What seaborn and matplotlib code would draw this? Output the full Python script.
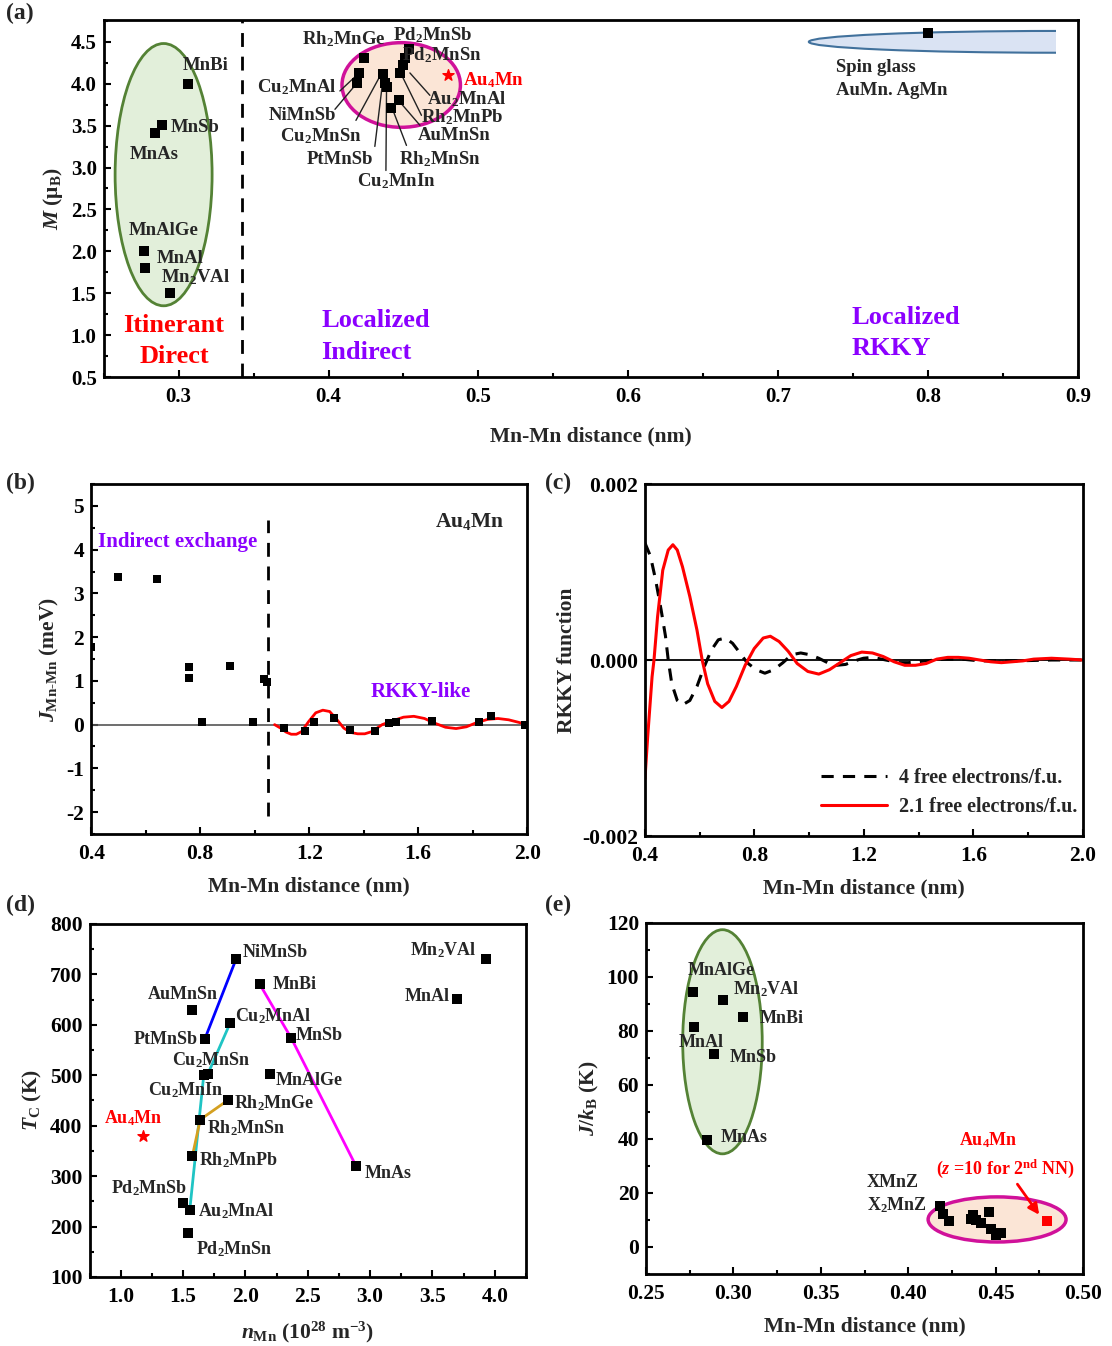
import re
import matplotlib
matplotlib.use('Agg')
import matplotlib.pyplot as plt
import seaborn as sns
from matplotlib.patches import Ellipse, Rectangle
from matplotlib.ticker import MultipleLocator, FormatStrFormatter

# ---------------- data ----------------
# (a) moment vs Mn-Mn distance
a_itin_names = ['MnBi', 'MnSb', 'MnAs', 'MnAlGe', 'MnAl', 'Mn2VAl']
a_itin_d = [0.306, 0.2886, 0.2845, 0.2767, 0.2774, 0.294]
a_itin_m = [4.0, 3.51, 3.41, 2.0, 1.80, 1.50]
a_heus_names = ['Rh2MnGe', 'Cu2MnAl', 'NiMnSb', 'Cu2MnSn', 'PtMnSb', 'Cu2MnIn',
                'Rh2MnSn', 'AuMnSn', 'Rh2MnPb', 'Au2MnAl', 'Pd2MnSn', 'Pd2MnSb']
a_heus_d = [0.4236, 0.4203, 0.4189, 0.4363, 0.4376, 0.4389,
            0.4416, 0.4469, 0.4476, 0.4496, 0.451, 0.4537]
a_heus_m = [4.305, 4.134, 4.014, 4.122, 4.014, 3.96,
            3.71, 3.81, 4.129, 4.22, 4.31, 4.41]
a_au4mn_d = [0.480]
a_au4mn_m = [4.10]
a_spin_d = [0.80]
a_spin_m = [4.61]

# (b) exchange constants of Au4Mn
b_dist = [0.40, 0.498, 0.643, 0.758, 0.758, 0.808, 0.911, 0.994, 1.033, 1.044,
          1.108, 1.185, 1.219, 1.292, 1.349, 1.44, 1.494, 1.517, 1.651, 1.822,
          1.867, 1.992]
b_J = [1.78, 3.38, 3.34, 1.31, 1.06, 0.05, 1.33, 0.05, 1.04, 0.98,
       -0.08, -0.14, 0.05, 0.14, -0.12, -0.14, 0.03, 0.05, 0.08, 0.05,
       0.20, -0.02]
b_fit_x = [1.073, 1.095, 1.115, 1.134, 1.153, 1.172, 1.198, 1.224, 1.25, 1.275,
           1.301, 1.327, 1.353, 1.378, 1.404, 1.43, 1.468, 1.507, 1.546, 1.584,
           1.623, 1.662, 1.70, 1.739, 1.777, 1.816, 1.855, 1.893, 1.932, 1.97, 1.996]
b_fit_y = [0.0, -0.08, -0.17, -0.22, -0.22, -0.16, 0.07, 0.27, 0.33, 0.30,
           0.12, -0.08, -0.18, -0.21, -0.21, -0.16, 0.0, 0.09, 0.17, 0.19,
           0.14, 0.03, -0.06, -0.09, -0.05, 0.05, 0.12, 0.14, 0.11, 0.05, 0.0]

# (c) RKKY functions
c_red_x = [0.40, 0.41, 0.426, 0.433, 0.446, 0.465, 0.485, 0.502, 0.518, 0.537,
           0.564, 0.59, 0.609, 0.629, 0.655, 0.681, 0.707, 0.734, 0.766, 0.799,
           0.832, 0.858, 0.89, 0.923, 0.956, 0.995, 1.035, 1.074, 1.113, 1.152,
           1.192, 1.231, 1.27, 1.31, 1.349, 1.388, 1.427, 1.466, 1.506, 1.545,
           1.584, 1.623, 1.663, 1.702, 1.741, 1.78, 1.82, 1.885, 1.95, 2.0]
c_red_y = [-0.00135, -0.00087, -0.00019, 0.0, 0.00049, 0.00102, 0.00125, 0.00131,
           0.00125, 0.00106, 0.00072, 0.00034, 0.0, -0.00027, -0.00047, -0.00054,
           -0.00047, -0.0003, -0.00006, 0.00013, 0.00025, 0.00027, 0.00021, 0.0001,
           -0.00004, -0.00013, -0.00016, -0.00011, -0.00003, 0.00005, 0.00009,
           0.00008, 0.00004, -0.00002, -0.00006, -0.00006, -0.00004, 0.00001,
           0.00003, 0.00003, 0.00002, 0.0, -0.00002, -0.00003, -0.00002, -0.00001,
           0.00001, 0.00002, 0.00001, 0.0]
c_blk_x = [0.40, 0.42, 0.439, 0.459, 0.475, 0.485, 0.498, 0.518, 0.537, 0.564,
           0.59, 0.616, 0.642, 0.668, 0.694, 0.72, 0.747, 0.773, 0.806, 0.838,
           0.871, 0.904, 0.936, 0.969, 1.002, 1.035, 1.067, 1.10, 1.133, 1.165,
           1.198, 1.231, 1.264, 1.296, 1.329, 1.362, 1.427, 1.493, 1.558, 1.623,
           1.754, 1.885, 2.0]
c_blk_y = [0.00133, 0.00118, 0.00091, 0.00057, 0.00027, 0.0, -0.00027, -0.00046,
           -0.00051, -0.00046, -0.0003, -0.00008, 0.00011, 0.00023, 0.00025, 0.00019,
           0.00008, -0.00003, -0.00011, -0.00015, -0.00011, -0.00003, 0.00006,
           0.00008, 0.00006, 0.00002, -0.00003, -0.00006, -0.00005, -0.00001,
           0.00002, 0.00003, 0.00001, -0.00001, -0.00003, -0.00003, -0.00001,
           0.00001, 0.00001, -0.00001, -0.00001, 0.0, 0.0]

# (d) Curie temperature vs Mn density
d_names = ['NiMnSb', 'MnBi', 'AuMnSn', 'Cu2MnAl', 'PtMnSb', 'MnSb', 'Cu2MnSn',
           'Cu2MnIn', 'MnAlGe', 'Rh2MnGe', 'Rh2MnSn', 'Rh2MnPb', 'MnAs',
           'Pd2MnSb', 'Au2MnAl', 'Pd2MnSn', 'Mn2VAl', 'MnAl']
d_n = [1.925, 2.116, 1.571, 1.877, 1.675, 2.369, 1.70, 1.666, 2.195, 1.857,
       1.638, 1.574, 2.889, 1.503, 1.554, 1.54, 3.93, 3.696]
d_tc = [730, 680, 629, 603, 572, 573, 503, 500, 503, 450,
        412, 339, 319, 247, 233, 188, 730, 651]
d_au4mn_n = [1.18]
d_au4mn_tc = [380]
d_blue = ['PtMnSb', 'NiMnSb']
d_cyan = ['Cu2MnAl', 'Cu2MnSn', 'Cu2MnIn', 'Au2MnAl']
d_gold = ['Rh2MnGe', 'Rh2MnSn', 'Rh2MnPb']
d_mag = ['MnBi', 'MnSb', 'MnAs']

# (e) J/kB vs Mn-Mn distance
e_itin_names = ['MnAlGe', 'Mn2VAl', 'MnBi', 'MnAl', 'MnSb', 'MnAs']
e_itin_d = [0.2766, 0.2939, 0.3057, 0.2773, 0.2887, 0.2846]
e_itin_j = [94.4, 91.3, 85.1, 81.3, 71.6, 39.8]
e_heus_d = [0.418, 0.4199, 0.4232, 0.4359, 0.4373, 0.4385, 0.4416, 0.4461,
            0.4471, 0.4502, 0.4529]
e_heus_j = [15.2, 12.4, 9.5, 10.5, 12.0, 9.9, 8.7, 13.0, 6.8, 4.3, 5.2]
e_au4mn_d = [0.4793]
e_au4mn_j = [9.65]

# ---------------- style ----------------
sns.set_theme(style='ticks')
plt.rcParams['font.family'] = ['Liberation Serif', 'DejaVu Serif']
plt.rcParams.update({
    'font.weight': 'bold', 'axes.labelweight': 'bold',
    'axes.unicode_minus': False,
    'mathtext.fontset': 'custom',
    'mathtext.rm': 'Liberation Serif:bold',
    'mathtext.bf': 'Liberation Serif:bold',
    'mathtext.it': 'Liberation Serif:italic:bold',
    'axes.linewidth': 2.0,
})
PURPLE = '#8B00FF'
TICK = 15.5
LAB = 15.5


def chem(s):
    return re.sub(r'(\d)', r'$_\1$', s)


def style_ax(ax, fs=TICK):
    ax.tick_params(which='both', direction='in', top=False, right=False,
                   width=1.5, labelsize=fs, colors='black')
    ax.tick_params(which='major', length=5)
    ax.tick_params(which='minor', length=3)
    ax.tick_params(axis='x', which='major', pad=7.5)
    ax.tick_params(axis='y', which='major', pad=5)
    for sp in ax.spines.values():
        sp.set_linewidth(2)
        sp.set_color('black')


def squares(ax, x, y, s=42, color='black'):
    sns.scatterplot(x=x, y=y, marker='s', s=s, color=color, edgecolor=color,
                    linewidth=0, ax=ax, zorder=5)


fig = plt.figure(figsize=(11.12, 13.46), dpi=100)

# ---------------- (a) ----------------
ax = fig.add_axes([0.0932, 0.7199, 0.8763, 0.2652])
ax.add_patch(Ellipse((0.290, 2.915), 0.0647, 3.13, fc='#e2efda', ec='#548235', lw=2, zorder=1))
ax.add_patch(Ellipse((0.4485, 3.985), 0.079, 1.01, fc='#fbe5d6', ec='#d0119a', lw=2.5, zorder=1))
sg = Ellipse((0.8854, 4.50), 0.33, 0.26, fc='#dae3f3', ec='#41719c', lw=1.5, zorder=1)
ax.add_patch(sg)
sg.set_clip_path(Rectangle((0.6, 4.0), 0.2854, 1.0, transform=ax.transData))
squares(ax, a_itin_d, a_itin_m)
squares(ax, a_heus_d, a_heus_m)
squares(ax, a_spin_d, a_spin_m)
ax.scatter(a_au4mn_d, a_au4mn_m, marker='*', s=70, color='red', zorder=6)
ax.plot([0.3424, 0.3424], [0.5, 4.76], color='black', lw=2, ls=(0, (5, 3.5)))
a_lab = {'MnBi': (0.303, 4.22), 'MnSb': (0.2948, 3.48), 'MnAs': (0.2674, 3.16),
         'MnAlGe': (0.2667, 2.25), 'MnAl': (0.2857, 1.92), 'Mn2VAl': (0.288, 1.69),
         'Rh2MnGe': (0.382, 4.53), 'Pd2MnSb': (0.443, 4.58), 'Pd2MnSn': (0.4488, 4.34),
         'Au2MnAl': (0.4655, 3.82), 'Rh2MnPb': (0.462, 3.60), 'AuMnSn': (0.4595, 3.38),
         'Rh2MnSn': (0.447, 3.10), 'Cu2MnIn': (0.419, 2.84), 'PtMnSb': (0.3857, 3.10),
         'Cu2MnSn': (0.3679, 3.38), 'NiMnSb': (0.36, 3.62), 'Cu2MnAl': (0.3524, 3.96)}
for name, (tx, ty) in a_lab.items():
    ax.text(tx, ty, chem(name), fontsize=13.5, ha='left', va='center', zorder=7)
ax.text(0.49, 4.04, chem('Au4Mn'), fontsize=13.5, color='red', ha='left', va='center')
a_leaders = [((0.4076, 3.914), (0.4187, 4.10)), ((0.4043, 3.695), (0.4189, 4.006)),
             ((0.4183, 3.563), (0.4343, 4.09)), ((0.4309, 3.252), (0.436, 4.006)),
             ((0.4383, 2.965), (0.4387, 3.946)), ((0.452, 3.264), (0.443, 3.683)),
             ((0.461, 3.504), (0.4476, 3.782)), ((0.462, 3.623), (0.4494, 4.081)),
             ((0.4676, 3.862), (0.4543, 4.129))]
for (x0, y0), (x1, y1) in a_leaders:
    ax.plot([x0, x1], [y0, y1], color='#222222', lw=1, zorder=4)
ax.text(0.297, 1.11, 'Itinerant', color='red', fontsize=19, ha='center', va='center')
ax.text(0.297, 0.74, 'Direct', color='red', fontsize=19, ha='center', va='center')
ax.text(0.395, 1.17, 'Localized', color=PURPLE, fontsize=19, ha='left', va='center')
ax.text(0.395, 0.79, 'Indirect', color=PURPLE, fontsize=19, ha='left', va='center')
ax.text(0.7487, 1.21, 'Localized', color=PURPLE, fontsize=19, ha='left', va='center')
ax.text(0.7487, 0.84, 'RKKY', color=PURPLE, fontsize=19, ha='left', va='center')
ax.text(0.7385, 4.19, 'Spin glass', fontsize=13.5, ha='left', va='center')
ax.text(0.7385, 3.92, 'AuMn. AgMn', fontsize=13.5, ha='left', va='center')
ax.set_xlim(0.25, 0.9)
ax.set_ylim(0.5, 4.76)
ax.xaxis.set_major_locator(MultipleLocator(0.1))
ax.xaxis.set_minor_locator(MultipleLocator(0.05))
ax.yaxis.set_major_locator(MultipleLocator(0.5))
ax.yaxis.set_minor_locator(MultipleLocator(0.25))
ax.xaxis.set_major_formatter(FormatStrFormatter('%.1f'))
ax.yaxis.set_major_formatter(FormatStrFormatter('%.1f'))
style_ax(ax, 15)
ax.set_xlabel('Mn-Mn distance (nm)', fontsize=LAB, labelpad=14)
ax.set_ylabel(r'$M$ (μ$_{\rm B}$)', fontsize=LAB)

# ---------------- (b) ----------------
ax = fig.add_axes([0.0820, 0.3804, 0.3921, 0.26])
ax.axhline(0, color='#555555', lw=1.2, zorder=1)
ax.plot([1.05, 1.05], [-2.1, 4.68], color='black', lw=2, ls=(0, (5, 3.5)))
sns.lineplot(x=b_fit_x, y=b_fit_y, color='red', lw=2, sort=False, estimator=None, ax=ax, zorder=4)
squares(ax, b_dist, b_J, s=38)
ax.text(1.79, 4.64, chem('Au4Mn'), fontsize=15.5, ha='center', va='center')
ax.text(0.426, 4.18, 'Indirect exchange', color=PURPLE, fontsize=15, ha='left', va='center')
ax.text(1.61, 0.75, 'RKKY-like', color=PURPLE, fontsize=15, ha='center', va='center')
ax.set_xlim(0.4, 2.0)
ax.set_ylim(-2.5, 5.5)
ax.xaxis.set_major_locator(MultipleLocator(0.4))
ax.xaxis.set_minor_locator(MultipleLocator(0.2))
ax.yaxis.set_major_locator(MultipleLocator(1))
ax.yaxis.set_minor_locator(MultipleLocator(0.5))
ax.xaxis.set_major_formatter(FormatStrFormatter('%.1f'))
style_ax(ax)
ax.set_xlabel('Mn-Mn distance (nm)', fontsize=LAB, labelpad=9)
ax.set_ylabel('$J_{\\rm Mn\u2010Mn}$ (meV)', fontsize=LAB)

# ---------------- (c) ----------------
ax = fig.add_axes([0.58, 0.3789, 0.3939, 0.2615])
ax.axhline(0, color='black', lw=1.3, zorder=1)
sns.lineplot(x=c_blk_x, y=c_blk_y, color='black', lw=2.2, sort=False, estimator=None,
             ax=ax, label='4 free electrons/f.u.', linestyle=(0, (4, 3)))
sns.lineplot(x=c_red_x, y=c_red_y, color='red', lw=2.2, sort=False, estimator=None,
             ax=ax, label='2.1 free electrons/f.u.')
ax.legend(loc='lower right', bbox_to_anchor=(1.02, 0.015), frameon=False, fontsize=14.5,
          handlelength=3.3, handletextpad=0.6, borderaxespad=0.3, labelspacing=0.45)
ax.set_xlim(0.4, 2.0)
ax.set_ylim(-0.002, 0.002)
ax.set_yticks([-0.002, 0.0, 0.002])
ax.yaxis.set_major_formatter(FormatStrFormatter('%.3f'))
ax.xaxis.set_major_locator(MultipleLocator(0.4))
ax.xaxis.set_minor_locator(MultipleLocator(0.2))
ax.xaxis.set_major_formatter(FormatStrFormatter('%.1f'))
style_ax(ax)
ax.set_xlabel('Mn-Mn distance (nm)', fontsize=LAB, labelpad=9)
ax.set_ylabel('RKKY function', fontsize=LAB)

# ---------------- (d) ----------------
ax = fig.add_axes([0.0805, 0.0513, 0.3925, 0.2623])
pos = dict(zip(d_names, zip(d_n, d_tc)))
for group, col in [(d_blue, '#0000ff'), (d_cyan, '#1fc4c4'), (d_gold, '#d4a020'), (d_mag, '#ff00ff')]:
    sns.lineplot(x=[pos[g][0] for g in group], y=[pos[g][1] for g in group], color=col,
                 lw=2, sort=False, estimator=None, ax=ax, zorder=3)
squares(ax, d_n, d_tc, s=42)
ax.scatter(d_au4mn_n, d_au4mn_tc, marker='*', s=70, color='red', zorder=6)
d_lab = {'NiMnSb': (1.981, 743, 'left'), 'MnBi': (2.215, 680, 'left'),
         'AuMnSn': (1.779, 661, 'right'), 'Cu2MnAl': (1.914, 617, 'left'),
         'PtMnSb': (1.6185, 571, 'right'), 'MnSb': (2.406, 579, 'left'),
         'Cu2MnSn': (1.413, 529, 'left'), 'MnAlGe': (2.243, 490, 'left'),
         'Cu2MnIn': (1.222, 470, 'left'), 'Rh2MnGe': (1.905, 445, 'left'),
         'Rh2MnSn': (1.694, 396, 'left'), 'Rh2MnPb': (1.624, 332, 'left'),
         'MnAs': (2.96, 306, 'left'), 'Pd2MnSb': (0.921, 276, 'left'),
         'Au2MnAl': (1.618, 231, 'left'), 'Pd2MnSn': (1.604, 156, 'left'),
         'Mn2VAl': (3.851, 747, 'right'), 'MnAl': (3.634, 656, 'right')}
for name, (tx, ty, ha) in d_lab.items():
    ax.text(tx, ty, chem(name), fontsize=13, ha=ha, va='center', zorder=7)
ax.text(0.865, 414, chem('Au4Mn'), fontsize=13, color='red', ha='left', va='center')
ax.set_xlim(0.75, 4.25)
ax.set_ylim(100, 800)
ax.xaxis.set_major_locator(MultipleLocator(0.5))
ax.xaxis.set_minor_locator(MultipleLocator(0.25))
ax.yaxis.set_major_locator(MultipleLocator(100))
ax.yaxis.set_minor_locator(MultipleLocator(50))
ax.xaxis.set_major_formatter(FormatStrFormatter('%.1f'))
style_ax(ax)
ax.set_xlabel(r'$n_{\rm Mn}$ (10$^{28}$ m$^{-3}$)', fontsize=LAB, labelpad=9)
ax.set_ylabel(r'$T_{\rm C}$ (K)', fontsize=LAB)

# ---------------- (e) ----------------
ax = fig.add_axes([0.581, 0.0535, 0.393, 0.2608])
ax.add_patch(Ellipse((0.2937, 76), 0.0455, 83, fc='#e2efda', ec='#548235', lw=2, zorder=1))
ax.add_patch(Ellipse((0.4508, 10.2), 0.0789, 16.7, fc='#fbe5d6', ec='#d0119a', lw=2.5, zorder=1))
squares(ax, e_itin_d, e_itin_j, s=42)
squares(ax, e_heus_d, e_heus_j, s=42)
squares(ax, e_au4mn_d, e_au4mn_j, s=42, color='red')
e_lab = {'MnAlGe': (0.2736, 102.3), 'Mn2VAl': (0.2996, 95.5), 'MnBi': (0.315, 84.7),
         'MnAl': (0.2689, 75.7), 'MnSb': (0.298, 70.1), 'MnAs': (0.2928, 40.5),
         'XMnZ': (0.3764, 23.75), 'X2MnZ': (0.3764, 15.5)}
for name, (tx, ty) in e_lab.items():
    ax.text(tx, ty, chem(name), fontsize=13, ha='left', va='center', zorder=7)
ax.text(0.4455, 39.6, chem('Au4Mn'), fontsize=13, color='red', ha='center', va='center')
ax.text(0.4557, 29.1, r'($z$ =10 for 2$^{\rm nd}$ NN)', fontsize=13, color='red',
        ha='center', va='center')
ax.annotate('', xy=(0.4758, 11.1), xytext=(0.4615, 24.1),
            arrowprops=dict(arrowstyle='-|>', color='red', lw=2, mutation_scale=16))
ax.set_xlim(0.25, 0.50)
ax.set_ylim(-10, 120)
ax.xaxis.set_major_locator(MultipleLocator(0.05))
ax.xaxis.set_minor_locator(MultipleLocator(0.025))
ax.yaxis.set_major_locator(MultipleLocator(20))
ax.yaxis.set_minor_locator(MultipleLocator(10))
ax.xaxis.set_major_formatter(FormatStrFormatter('%.2f'))
style_ax(ax)
ax.set_xlabel('Mn-Mn distance (nm)', fontsize=LAB, labelpad=9)
ax.set_ylabel(r'$J/k_{\rm B}$ (K)', fontsize=LAB)

# panel letters
for lab, x, y in [('(a)', 0.005, 0.99), ('(b)', 0.005, 0.641), ('(c)', 0.49, 0.641),
                  ('(d)', 0.005, 0.327), ('(e)', 0.49, 0.327)]:
    fig.text(x, y, lab, fontsize=17, ha='left', va='center')

fig.savefig('out.png', dpi=100)
